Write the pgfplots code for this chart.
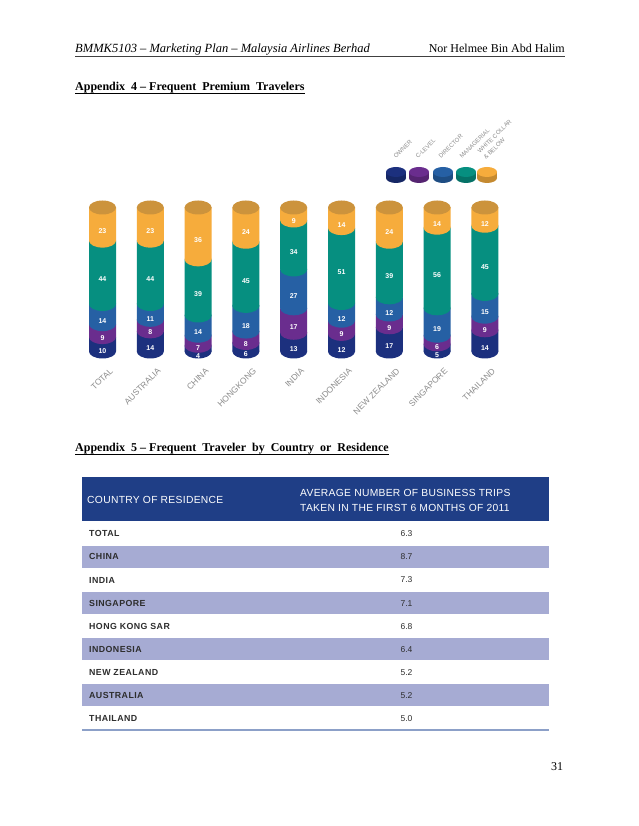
\documentclass[border=0pt]{standalone}
\usepackage{pgfplots}
\pgfplotsset{compat=1.18}
\usepackage{pgfplotstable}
\usepackage{fontspec}
\setmainfont{Liberation Serif}
\newfontfamily\arial{Liberation Sans}
\newfontfamily\arialsp[LetterSpace=3]{Liberation Sans}
\newfontfamily\arialbsp[LetterSpace=5]{Liberation Sans}
\definecolor{cOwner}{RGB}{28,48,126}
\definecolor{cClevel}{RGB}{106,45,142}
\definecolor{cDirector}{RGB}{38,96,164}
\definecolor{cManagerial}{RGB}{6,143,128}
\definecolor{cWhite}{RGB}{246,172,60}
\definecolor{cCap}{RGB}{204,147,60}
\definecolor{tickgray}{RGB}{140,140,140}
\definecolor{hdrblue}{RGB}{31,62,134}
\definecolor{lav}{RGB}{166,171,211}
\definecolor{tline}{RGB}{140,160,200}
\definecolor{rowtext}{RGB}{45,45,45}
\pgfdeclareplotmark{cyl}{\pgfpathellipse{\pgfpointorigin}{\pgfqpoint{13.5pt}{0pt}}{\pgfqpoint{0pt}{7pt}}\pgfusepathqfill}
\pgfplotstableread{
x owner clevel director managerial white
0 10 9 14 44 23
1 14 8 11 44 23
2 4 7 14 39 36
3 6 8 18 45 24
4 13 17 27 34 9
5 12 9 12 51 14
6 17 9 12 39 24
7 5 6 19 56 14
8 14 9 15 45 12
}\datatable
% every cylinder is drawn to the same full height (shares of its own total)
\newcommand\T{(\thisrow{owner}+\thisrow{clevel}+\thisrow{director}+\thisrow{managerial}+\thisrow{white})}
\begin{document}
\begin{tikzpicture}
\begin{scope}[shift={(0pt,826pt)},x=1pt,y=-1pt]
\fill[white] (0,0) rectangle (638,826);
\end{scope}
% ---------- stacked bars
\begin{axis}[
  at={(78.6pt,474.5pt)}, anchor=south west,
  scale only axis, width=430.2pt, height=144pt,
  xmin=-0.5, xmax=8.5, ymin=0, ymax=100,
  ybar stacked, bar width=27pt,
  axis line style={draw=none}, tick style={draw=none},
  ytick=\empty, xtick={0,...,8},
  xticklabels={TOTAL,AUSTRALIA,CHINA,HONGKONG,INDIA,INDONESIA,NEW ZEALAND,SINGAPORE,THAILAND},
  xticklabel style={font=\arial\fontsize{8.5}{9}\selectfont, text=tickgray, inner sep=0pt, xshift=9pt, yshift=-18pt, rotate=45, anchor=east},
  clip=false,
]
\addplot[fill=cOwner, draw=none] table[x=x,y expr=100*\thisrow{owner}/\T]{\datatable};
\addplot[fill=cClevel, draw=none] table[x=x,y expr=100*\thisrow{clevel}/\T]{\datatable};
\addplot[fill=cDirector, draw=none] table[x=x,y expr=100*\thisrow{director}/\T]{\datatable};
\addplot[fill=cManagerial, draw=none] table[x=x,y expr=100*\thisrow{managerial}/\T]{\datatable};
\addplot[fill=cWhite, draw=none] table[x=x,y expr=100*\thisrow{white}/\T]{\datatable};
\end{axis}
% ---------- cylinder arcs and labels
\begin{axis}[
  at={(78.6pt,474.5pt)}, anchor=south west,
  scale only axis, width=430.2pt, height=144pt,
  xmin=-0.5, xmax=8.5, ymin=0, ymax=100, hide axis, clip=false,
  lbl/.style={draw=none, mark=none, nodes near coords, point meta=explicit,
    /pgf/number format/assume math mode=true,
    every node near coord/.style={anchor=center, yshift=-7pt, text=white, inner sep=0pt,
      font=\arial\bfseries\fontsize{7}{8}\selectfont}},
]
\addplot[only marks, mark=cyl, color=cOwner, mark options={fill=cOwner,draw=none}] table[x=x,y expr=0]{\datatable};
\addplot[only marks, mark=cyl, color=cClevel, mark options={fill=cClevel,draw=none}] table[x=x,y expr=100*(\thisrow{owner})/\T]{\datatable};
\addplot[only marks, mark=cyl, color=cDirector, mark options={fill=cDirector,draw=none}] table[x=x,y expr=100*(\thisrow{owner}+\thisrow{clevel})/\T]{\datatable};
\addplot[only marks, mark=cyl, color=cManagerial, mark options={fill=cManagerial,draw=none}] table[x=x,y expr=100*(\thisrow{owner}+\thisrow{clevel}+\thisrow{director})/\T]{\datatable};
\addplot[only marks, mark=cyl, color=cWhite, mark options={fill=cWhite,draw=none}] table[x=x,y expr=100*(\thisrow{owner}+\thisrow{clevel}+\thisrow{director}+\thisrow{managerial})/\T]{\datatable};
\addplot[only marks, mark=cyl, color=cCap, mark options={fill=cCap,draw=none}] table[x=x,y expr=100]{\datatable};
\addplot[lbl] table[x=x,y expr=100*(\thisrow{owner}/2)/\T,meta=owner]{\datatable};
\addplot[lbl] table[x=x,y expr=100*(\thisrow{owner}+\thisrow{clevel}/2)/\T,meta=clevel]{\datatable};
\addplot[lbl] table[x=x,y expr=100*(\thisrow{owner}+\thisrow{clevel}+\thisrow{director}/2)/\T,meta=director]{\datatable};
\addplot[lbl] table[x=x,y expr=100*(\thisrow{owner}+\thisrow{clevel}+\thisrow{director}+\thisrow{managerial}/2)/\T,meta=managerial]{\datatable};
\addplot[lbl] table[x=x,y expr=100*(\thisrow{owner}+\thisrow{clevel}+\thisrow{director}+\thisrow{managerial}+\thisrow{white}/2)/\T,meta=white]{\datatable};
\end{axis}
\begin{scope}[shift={(0pt,826pt)},x=1pt,y=-1pt]
% header
\node[anchor=base west, inner sep=0pt, font=\itshape\fontsize{12.5}{14}\selectfont] at (75,52.3) {BMMK5103 -- Marketing Plan -- Malaysia Airlines Berhad};
\node[anchor=base east, inner sep=0pt, font=\fontsize{12}{14}\selectfont] at (565,52.3) {Nor Helmee Bin Abd Halim};
\draw[line width=0.9pt, black!75] (75,56.5) -- (565,56.5);
\node[anchor=base west, inner sep=0pt, font=\bfseries\fontsize{12}{14}\selectfont] (a4) at (75,91) {Appendix\ \ 4 -- Frequent\ \ Premium\ \ Travelers};
\draw[line width=0.8pt] (a4.base west) ++(0,2.8) -- (a4.base east |- 0,93.8);
\node[anchor=base west, inner sep=0pt, font=\bfseries\fontsize{12}{14}\selectfont] (a5) at (75,451.5) {Appendix\ \ 5 -- Frequent\ \ Traveler\ \ by\ \ Country\ \ or\ \ Residence};
\draw[line width=0.8pt] (a5.base west) ++(0,2.8) -- (a5.base east |- 0,454.3);
\node[anchor=base, inner sep=0pt, font=\fontsize{12}{14}\selectfont] at (557,771) {31};
% legend
\foreach \c/\xx in {cOwner/396,cClevel/419,cDirector/443,cManagerial/466,cWhite/487} {
  \fill[\c!80!black] (\xx-10,172) rectangle (\xx+10,178);
  \fill[\c!80!black] (\xx,178) ellipse [x radius=10, y radius=5];
  \fill[\c] (\xx,172) ellipse [x radius=10, y radius=5];
}
\begin{scope}[every node/.style={anchor=base west, inner sep=0pt, rotate=45, text=tickgray, font=\arial\fontsize{6}{6.5}\selectfont}]
\node at (396,159) {OWNER};
\node at (418,159) {C-LEVEL};
\node at (441,159) {DIRECTOR};
\node at (462,159) {MANAGERIAL};
\node at (480,154) {WHITE COLLAR};
\node at (486,160) {\& BELOW};
\end{scope}
% table
\fill[hdrblue] (82,477.5) rectangle (549,521.5);
\node[anchor=west, inner sep=0pt, text=white, font=\arialsp\fontsize{10.3}{11}\selectfont] at (87,500) {COUNTRY OF RESIDENCE};
\node[anchor=west, inner sep=0pt, text=white, font=\arialsp\fontsize{10.3}{11}\selectfont] at (300,492.5) {AVERAGE NUMBER OF BUSINESS TRIPS};
\node[anchor=west, inner sep=0pt, text=white, font=\arialsp\fontsize{10.3}{11}\selectfont] at (300,507.7) {TAKEN IN THE FIRST 6 MONTHS OF 2011};
\foreach \name/\val [count=\i from 0] in {TOTAL/6.3,CHINA/8.7,INDIA/7.3,SINGAPORE/7.1,HONG KONG SAR/6.8,INDONESIA/6.4,NEW ZEALAND/5.2,AUSTRALIA/5.2,THAILAND/5.0} {
  \pgfmathsetmacro\ytop{521.5+23.1*\i}
  \ifodd\i \fill[lav] (82,\ytop+1) rectangle (549,\ytop+23.1); \fi
  \node[anchor=west, inner sep=0pt, text=rowtext, font=\arialbsp\bfseries\fontsize{8.8}{10}\selectfont] at (89,\ytop+12.3) {\name};
  \node[inner sep=0pt, text=rowtext, font=\arial\fontsize{8.5}{10}\selectfont] at (406.5,\ytop+12.3) {\val};
}
\draw[tline, line width=1.5pt] (82,730) -- (549,730);
\end{scope}
\end{tikzpicture}
\end{document}
